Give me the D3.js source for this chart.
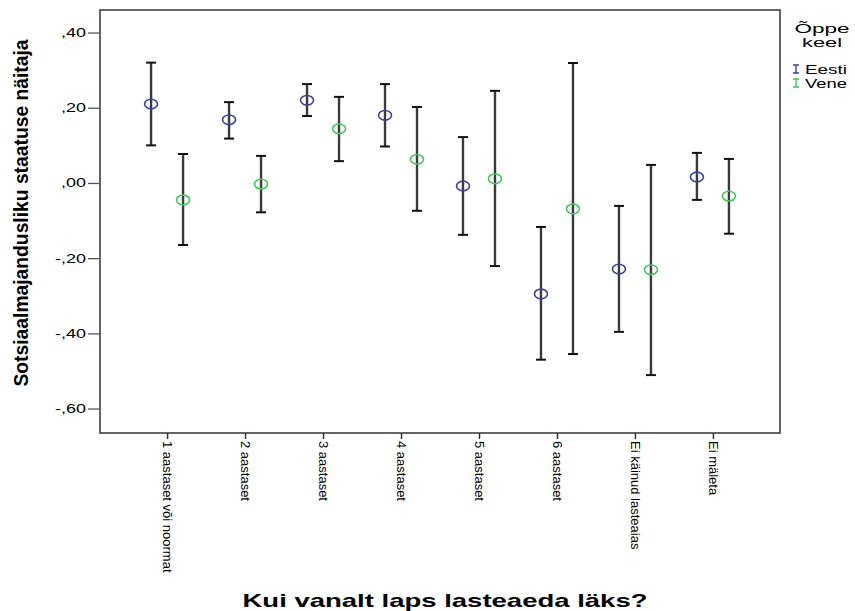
<!DOCTYPE html>
<html>
<head>
<meta charset="utf-8">
<script src="https://cdn.jsdelivr.net/npm/d3@7/dist/d3.min.js"></script>
<style>
body { margin: 0; background: #fff; }
text { font-family: "Liberation Sans", Arial, sans-serif; fill: #000; }
</style>
</head>
<body>
<div class="chart"></div>
<script>
// categories and series values
var categories = ["1 aastaset või noormat", "2 aastaset", "3 aastaset", "4 aastaset", "5 aastaset", "6 aastaset", "Ei käinud lasteaias", "Ei mäleta"];
var seriesNames = ["Eesti", "Vene"];
var eestiMean  = [0.21, 0.168, 0.22, 0.18, -0.008, -0.295, -0.229, 0.016];
var eestiUpper = [0.32, 0.215, 0.263, 0.263, 0.122, -0.117, -0.061, 0.08];
var eestiLower = [0.10, 0.118, 0.178, 0.097, -0.138, -0.47, -0.396, -0.045];
var veneMean   = [-0.045, -0.003, 0.144, 0.063, 0.011, -0.069, -0.231, -0.035];
var veneUpper  = [0.077, 0.072, 0.229, 0.202, 0.245, 0.319, 0.048, 0.064];
var veneLower  = [-0.165, -0.078, 0.058, -0.074, -0.221, -0.455, -0.511, -0.135];
var yTicks = [0.4, 0.2, 0, -0.2, -0.4, -0.6];
var yTickLabels = [",40", ",20", ",00", "-,20", "-,40", "-,60"];

var colors = {"Eesti": "#3d3f99", "Vene": "#3fc85c"};

var margin = {top: 10, right: 75, bottom: 178, left: 100};
var Width = 855 - margin.left - margin.right;
var Height = 611 - margin.top - margin.bottom;

var data = [];
categories.forEach(function(c, i) {
  data.push({cat: c, series: "Eesti", mean: eestiMean[i], lo: eestiLower[i], hi: eestiUpper[i]});
  data.push({cat: c, series: "Vene", mean: veneMean[i], lo: veneLower[i], hi: veneUpper[i]});
});

var xScale = d3.scalePoint().domain(categories).range([0, Width]).padding(0.86);
var sScale = d3.scalePoint().domain(seriesNames).range([-16, 16]);
var yScale = d3.scaleLinear().domain([-0.665, 0.46]).range([Height, 0]);

var svg = d3.select(".chart").append("svg")
  .attr("width", 855)
  .attr("height", 611);

var g = svg.append("g")
  .attr("transform", "translate(" + margin.left + "," + margin.top + ")");

// frame
g.append("rect")
  .attr("x", 0).attr("y", 0)
  .attr("width", Width).attr("height", Height)
  .attr("fill", "none")
  .attr("stroke", "#555")
  .attr("stroke-width", 1.8);

// y axis
var yAxis = d3.axisLeft(yScale).tickValues(yTicks).tickSize(12)
  .tickFormat(function(d, i) { return yTickLabels[i]; });
var yg = g.append("g").call(yAxis);
yg.select(".domain").remove();
yg.selectAll("line").attr("stroke", "#555").attr("stroke-width", 1.3);
yg.selectAll("text")
  .attr("x", -14 / 1.5)
  .attr("transform", "scale(1.5,1)")
  .style("font-size", "12px")
  .style("font-family", "'Liberation Sans', Arial, sans-serif");

// x axis
var xAxis = d3.axisBottom(xScale).tickSize(6);
var xg = g.append("g")
  .attr("transform", "translate(0," + Height + ")")
  .call(xAxis);
xg.select(".domain").remove();
xg.selectAll("line").attr("stroke", "#333").attr("stroke-width", 1.5);
xg.selectAll("text")
  .attr("transform", "rotate(90)")
  .attr("x", 8)
  .attr("y", 0)
  .attr("dy", "0.35em")
  .style("text-anchor", "start")
  .style("font-size", "13px")
  .style("font-family", "'Liberation Sans', Arial, sans-serif");

// error bars
var bars = g.selectAll(".bar")
  .data(data)
  .enter().append("g")
    .attr("class", "bar")
    .attr("transform", function(d) { return "translate(" + (xScale(d.cat) + sScale(d.series)) + ",0)"; });

bars.append("line")
  .attr("y1", function(d) { return yScale(d.hi); })
  .attr("y2", function(d) { return yScale(d.lo); })
  .attr("stroke", "#3a3a3a")
  .attr("stroke-width", 2.4);

bars.append("line")
  .attr("x1", -5).attr("x2", 5)
  .attr("y1", function(d) { return yScale(d.hi); })
  .attr("y2", function(d) { return yScale(d.hi); })
  .attr("stroke", "#111").attr("stroke-width", 2);

bars.append("line")
  .attr("x1", -5).attr("x2", 5)
  .attr("y1", function(d) { return yScale(d.lo); })
  .attr("y2", function(d) { return yScale(d.lo); })
  .attr("stroke", "#111").attr("stroke-width", 2);

bars.append("ellipse")
  .attr("cy", function(d) { return yScale(d.mean); })
  .attr("rx", 6.5).attr("ry", 4.8)
  .attr("fill", "none")
  .attr("stroke", function(d) { return colors[d.series]; })
  .attr("stroke-width", 1.6);

// axis titles
svg.append("text")
  .attr("transform", "translate(28,213) rotate(-90)")
  .attr("text-anchor", "middle")
  .attr("textLength", 347)
  .attr("lengthAdjust", "spacingAndGlyphs")
  .style("font-size", "20px")
  .style("font-weight", "bold")
  .text("Sotsiaalmajandusliku staatuse näitaja");

svg.append("text")
  .attr("x", 445).attr("y", 607)
  .attr("text-anchor", "middle")
  .attr("textLength", 405)
  .attr("lengthAdjust", "spacingAndGlyphs")
  .style("font-size", "18.5px")
  .style("font-weight", "bold")
  .text("Kui vanalt laps lasteaeda läks?");

// legend
var legend = svg.append("g").attr("transform", "translate(822,0)");
legend.append("text").attr("x", 0).attr("y", 33)
  .attr("text-anchor", "middle")
  .attr("textLength", 55).attr("lengthAdjust", "spacingAndGlyphs")
  .style("font-size", "13px").text("Õppe");
legend.append("text").attr("x", 0).attr("y", 47)
  .attr("text-anchor", "middle")
  .attr("textLength", 40).attr("lengthAdjust", "spacingAndGlyphs")
  .style("font-size", "13px").text("keel");

var items = legend.selectAll(".item")
  .data(seriesNames)
  .enter().append("g")
    .attr("class", "item")
    .attr("transform", function(d, i) { return "translate(-26," + (69 + i * 14) + ")"; });

items.append("path")
  .attr("d", "M-3,-4H3M0,-4V4M-3,4H3")
  .attr("fill", "none")
  .attr("stroke", function(d) { return colors[d]; })
  .attr("stroke-width", 1.4);

items.append("text")
  .attr("x", 9).attr("y", 4.5)
  .attr("textLength", function(d) { return d == "Eesti" ? 42 : 42; })
  .attr("lengthAdjust", "spacingAndGlyphs")
  .style("font-size", "13px")
  .text(function(d) { return d; });
</script>
</body>
</html>
